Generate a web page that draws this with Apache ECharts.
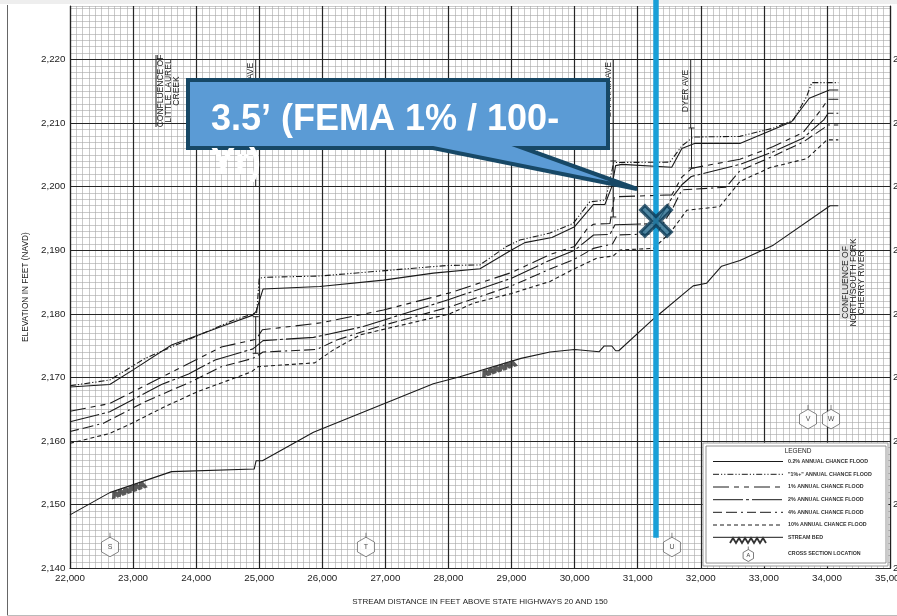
<!DOCTYPE html>
<html><head><meta charset="utf-8">
<script src="https://cdn.jsdelivr.net/npm/echarts/dist/echarts.min.js"></script>
<style>html,body{margin:0;padding:0;background:#fff}#c{width:897px;height:616px}</style>
</head><body><div id="c"></div>
<script>
// ---------------- data ----------------
const xMin = 22000, xMax = 35000, xStep = 1000;
const yMin = 2140, yMax = 2228.4, yStep = 10;

const flood02 = [[22000,2168.5],[22630,2168.9],[23000,2171.2],[23610,2175.1],[24400,2178.0],[24900,2179.8],[24950,2180.4],[25060,2183.9],[25960,2184.3],[26970,2185.3],[27760,2186.4],[28500,2187.1],[29000,2190.05],[29210,2191.2],[29640,2192.0],[30000,2193.7],[30300,2197.2],[30480,2197.2],[30590,2200.0],[30650,2203.3],[30750,2203.5],[31540,2203.05],[31700,2206.0],[31900,2206.8],[32620,2206.8],[33150,2209.0],[33440,2210.2],[33720,2213.9],[34040,2215.2],[34180,2215.2]];
const flood1plus = [[22000,2168.7],[22630,2169.6],[23190,2173.0],[24590,2179.0],[24960,2180.2],[25000,2185.6],[25090,2185.75],[25960,2185.95],[27970,2187.6],[28500,2187.7],[28920,2190.6],[29130,2191.6],[29610,2192.7],[29980,2194.25],[30240,2197.6],[30490,2197.9],[30620,2203.8],[31510,2203.85],[31700,2206.4],[31880,2207.8],[32620,2207.9],[33150,2209.2],[33470,2210.5],[33680,2214.2],[33760,2216.35],[34180,2216.35]];
const flood1 = [[22000,2164.7],[22630,2165.9],[23500,2170.3],[24400,2174.8],[24950,2176.0],[25050,2177.5],[25990,2178.6],[26970,2180.6],[28020,2183.3],[29000,2186.5],[29600,2189.3],[30000,2190.6],[30200,2193.4],[30300,2194.1],[30560,2194.2],[30630,2198.4],[31540,2198.7],[31700,2201.5],[31860,2202.9],[32620,2204.3],[33150,2206.3],[33620,2208.5],[33900,2212.0],[34020,2213.75],[34180,2213.75]];
const flood2 = [[22000,2163.05],[22630,2164.6],[23450,2168.9],[23880,2170.55],[24300,2172.75],[24900,2174.5],[25060,2175.8],[25860,2176.3],[26650,2178.0],[28020,2182.3],[29000,2185.6],[29600,2188.4],[30000,2190.0],[30300,2192.4],[30560,2192.5],[30640,2194.0],[31300,2194.2],[31540,2198.2],[31700,2200.3],[31850,2201.6],[32620,2203.5],[33150,2205.5],[33620,2207.6],[33950,2210.5],[34020,2211.55],[34180,2211.55]];
const flood4 = [[22000,2161.5],[22530,2162.8],[23190,2166.2],[23900,2169.25],[24400,2171.7],[24900,2173.0],[25060,2174.0],[25910,2174.4],[26230,2175.9],[26860,2177.9],[28020,2181.1],[29000,2184.4],[29600,2187.0],[30000,2188.6],[30300,2190.3],[30600,2191.0],[30680,2192.4],[31300,2192.6],[31550,2196.5],[31700,2199.5],[32400,2199.9],[32620,2202.5],[33150,2204.8],[33620,2207.0],[33950,2209.2],[34020,2209.7],[34180,2209.7]];
const flood10 = [[22000,2159.65],[22630,2161.2],[22980,2162.8],[23500,2165.4],[24030,2167.8],[24880,2170.9],[24980,2171.7],[25880,2172.3],[26170,2174.3],[26600,2176.7],[28020,2180.0],[28400,2181.7],[29000,2183.2],[29610,2185.1],[29980,2187.0],[30350,2188.75],[30610,2189.1],[30720,2190.05],[31040,2190.2],[31250,2190.3],[31510,2192.7],[31780,2196.3],[32300,2196.85],[32620,2200.8],[33100,2203.0],[33680,2204.4],[34000,2207.35],[34180,2207.35]];
const streamBed = [[22000,2148.4],[22630,2151.9],[23610,2155.2],[24920,2155.6],[24950,2156.9],[25050,2156.9],[25860,2161.4],[27760,2169.0],[28180,2170.1],[29150,2173.0],[29610,2174.0],[30000,2174.4],[30390,2174.05],[30470,2174.95],[30590,2174.95],[30650,2174.2],[30700,2174.2],[31250,2179.2],[31830,2184.0],[31880,2184.4],[32090,2184.8],[32330,2187.5],[32620,2188.4],[33150,2190.8],[34050,2197.0],[34180,2197.0]];

const streamBedSymbolPos = [[22931,2152.3],[28800,2171.4]];
const crossSectionIds = ['S','T','U','V','W'];
const crossSectionDist = [22634,26692,31543,33700,34065];
const crossSectionElev = [2143.7,2143.7,2143.7,2163.8,2163.8];

const markerDist = 31290;
const markerElev = 2194.6;
const markerLineRange = [2144.8, 2229.4];

const seriesNames = ['0.2% ANNUAL CHANCE FLOOD','"1%+" ANNUAL CHANCE FLOOD','1% ANNUAL CHANCE FLOOD','2% ANNUAL CHANCE FLOOD','4% ANNUAL CHANCE FLOOD','10% ANNUAL CHANCE FLOOD'];
const seriesData = [flood02, flood1plus, flood1, flood2, flood4, flood10];
const dashes = ['solid',[6,2,1.2,2,1.2,2],[16,5,5,5,5,5],[30,3,3,3],[9,4,11,4,2,4],[4,3]];

// ---------------- chart ----------------
const FONT = '"Liberation Sans", Arial, sans-serif';
const fmt = v => Math.round(v).toLocaleString('en-US');
const chart = echarts.init(document.getElementById('c'));

const hexPath = 'path://M0,-16L0,-11M9.5,-5.5L9.5,5.5L0,11L-9.5,5.5L-9.5,-5.5L0,-11Z';
const zigPath = 'path://M0,6L3,0L6,6L9,0L12,6L15,0L18,6L21,0L24,6L27,0L30,6L33,0L36,6';
const xPath = 'path://M-10,-14L0,-4L10,-14L14,-10L4,0L14,10L10,14L0,4L-10,14L-14,10L-4,0L-14,-10Z';

const series = seriesNames.map((n,i)=>({
  name:n, type:'line', data:seriesData[i], symbol:'none', silent:true, z:5,
  lineStyle:{color:'#1a1a1a', width:1.1, type:dashes[i]}
}));
series.push({name:'STREAM BED', type:'line', data:streamBed, symbol:'none', silent:true, z:5,
  lineStyle:{color:'#1a1a1a', width:1.1}});
series.push({name:'bedSymbol', type:'scatter', data:streamBedSymbolPos, symbol:zigPath, symbolSize:[34,7],
  symbolRotate:19, silent:true, z:6, itemStyle:{color:'rgba(0,0,0,0)', borderColor:'#333', borderWidth:1.8}});
series.push({name:'cross', type:'scatter', silent:true, z:6,
  data:crossSectionIds.map((id,i)=>({name:id, value:[crossSectionDist[i],crossSectionElev[i]]})),
  symbol:hexPath, symbolSize:[17,24], symbolKeepAspect:false,
  itemStyle:{color:'#fff', borderColor:'#444', borderWidth:0.8},
  label:{show:true, formatter:'{b}', position:'inside', offset:[0,2.3], fontSize:7, color:'#222', fontFamily:FONT}});
series.push({name:'markerLine', type:'line', clip:false, silent:true, z:20, symbol:'none',
  data:[[markerDist,markerLineRange[0]],[markerDist,markerLineRange[1]]],
  lineStyle:{color:'#1A9FD7', width:5.5}});
series.push({name:'marker', type:'scatter', silent:true, z:21, data:[[markerDist,markerElev]],
  symbol:xPath, symbolSize:31, itemStyle:{color:'#266B8F', borderColor:'#0C3A55', borderWidth:3}});

// ---------------- annotations ----------------
const G = [];
const ink = '#222';
G.push({type:'rect', shape:{x:0,y:0,width:897,height:4}, style:{fill:'#eeeeee'}, silent:true, z:1});
G.push({type:'line', shape:{x1:7.5,y1:5,x2:7.5,y2:615}, style:{stroke:'#666',lineWidth:1}, z:1});
G.push({type:'line', shape:{x1:7,y1:615.5,x2:897,y2:615.5}, style:{stroke:'#bbb',lineWidth:1}, z:1});
function vline(x,y1,y2){G.push({type:'line', shape:{x1:x,y1:y1,x2:x,y2:y2}, style:{stroke:ink,lineWidth:1}, z:30, silent:true});}
function ibar(x,y1,y2){vline(x,y1,y2);
  G.push({type:'line', shape:{x1:x-3,y1:y1,x2:x+3,y2:y1}, style:{stroke:ink,lineWidth:1}, z:30});
  G.push({type:'line', shape:{x1:x-3,y1:y2,x2:x+3,y2:y2}, style:{stroke:ink,lineWidth:1}, z:30});}
function vtext(t,x,y,fs){G.push({type:'text', x:x, y:y, rotation:Math.PI/2, z:30, silent:true,
  style:{text:t, fontSize:fs||8.5, fontFamily:FONT, fill:ink, align:'center', verticalAlign:'middle', lineHeight:8}});}

vline(156,55,127); vtext('CONFLUENCE OF\nLITTLE LAUREL\nCREEK',168.5,91);
vline(255.7,60,187); vtext('AVE',250.5,71); ibar(255.7,316.7,353.3);
vline(613.3,60,161); vtext('GRAHAM AVE',608.3,90); ibar(613.3,161,217);
vline(690.7,60,128); vtext('DYER AVE',686,91); ibar(691.5,128,168);
G.push({type:'rect', shape:{x:840,y:245,width:10,height:74}, style:{fill:'#e4e4e4'}, z:29});
vtext('CONFLUENCE OF\nNORTH/SOUTH FORK\nCHERRY RIVER',853.5,282.5);

// callout
G.push({type:'polygon', z:100, silent:true,
  shape:{points:[[188,80],[608,80],[608,148],[523,148],[637,189],[433,148],[188,148]]},
  style:{fill:'#5B9BD5', stroke:'#174866', lineWidth:4, lineJoin:'miter'}});
G.push({type:'text', x:211, y:98, z:101, silent:true,
  style:{text:'3.5\u2019 (FEMA 1% / 100-\nYr)', fontSize:36, fontWeight:'bold', fontFamily:FONT, fill:'#fff', lineHeight:44, verticalAlign:'top', align:'left'}});

// legend
G.push({type:'rect', z:60, shape:{x:703,y:443,width:185,height:123}, style:{fill:'#fff', stroke:'#999', lineWidth:1}});
G.push({type:'rect', z:61, shape:{x:706,y:446,width:180,height:117}, style:{fill:'none', stroke:'#777', lineWidth:0.8}});
G.push({type:'text', z:62, x:798, y:451, style:{text:'LEGEND', fontSize:6.5, fontFamily:FONT, fill:ink, align:'center', verticalAlign:'middle'}});
const legY = [461.5,474.3,487,499.7,512.3,525];
seriesNames.forEach((n,i)=>{
  const d = dashes[i];
  G.push({type:'line', z:62, shape:{x1:713,y1:legY[i],x2:783,y2:legY[i]}, style:{stroke:'#1a1a1a', lineWidth:1, lineDash: d==='solid'?null:d}});
  G.push({type:'text', z:62, x:788, y:legY[i], style:{text:n, fontSize:5.3, fontWeight:'bold', fontFamily:FONT, fill:'#333', verticalAlign:'middle'}});
});
G.push({type:'line', z:62, shape:{x1:713,y1:537.3,x2:783,y2:537.3}, style:{stroke:'#1a1a1a', lineWidth:1}});
const zz=[]; for(let k=0;k<=12;k++){zz.push([730+k*3, 543-(k%2)*5]);}
G.push({type:'polyline', z:63, shape:{points:zz}, style:{stroke:'#333', lineWidth:1.8, fill:null}});
G.push({type:'text', z:62, x:788, y:537.3, style:{text:'STREAM BED', fontSize:5.3, fontWeight:'bold', fontFamily:FONT, fill:'#333', verticalAlign:'middle'}});
G.push({type:'polygon', z:62, shape:{points:[[748.3,549.5],[753.5,552.5],[753.5,558.5],[748.3,561.5],[743.1,558.5],[743.1,552.5]]}, style:{fill:'#fff', stroke:'#444', lineWidth:0.7}});
G.push({type:'line', z:62, shape:{x1:748.3,y1:546.5,x2:748.3,y2:549.5}, style:{stroke:'#444', lineWidth:0.7}});
G.push({type:'text', z:63, x:748.3, y:555.7, style:{text:'A', fontSize:5.5, fontFamily:FONT, fill:'#333', align:'center', verticalAlign:'middle'}});
G.push({type:'text', z:62, x:788, y:554, style:{text:'CROSS SECTION LOCATION', fontSize:5.3, fontWeight:'bold', fontFamily:FONT, fill:'#333', verticalAlign:'middle'}});

const major = {color:'#262626', width:1.2};
const minor = {color:'#a6a6a6', width:0.6};
const option = {
  animation:false,
  backgroundColor:'#fff',
  grid:{left:70, right:7, top:6, bottom:47.7, show:false, containLabel:false, outerBoundsMode:'none'},
  xAxis:{type:'value', min:xMin, max:xMax, interval:xStep, z:2,
    name:'STREAM DISTANCE IN FEET ABOVE STATE HIGHWAYS 20 AND 150', nameLocation:'middle', nameGap:29,
    nameTextStyle:{fontSize:8, fontFamily:FONT, color:ink},
    axisLabel:{formatter:fmt, fontSize:9.8, fontFamily:FONT, color:ink, margin:5},
    axisLine:{show:true, lineStyle:{color:'#222', width:1.2}}, axisTick:{show:false},
    splitLine:{show:true, lineStyle:major},
    minorTick:{show:false, splitNumber:10}, minorSplitLine:{show:true, lineStyle:minor}},
  yAxis:[
    {type:'value', min:yMin, max:yMax, interval:yStep, position:'left', z:3,
     name:'ELEVATION IN FEET (NAVD)', nameLocation:'middle', nameGap:38, nameRotate:90,
     nameTextStyle:{fontSize:8.3, fontFamily:FONT, color:ink},
     axisLabel:{formatter:fmt, fontSize:9.8, fontFamily:FONT, color:ink, margin:4.5, showMaxLabel:false},
     axisLine:{show:true, lineStyle:{color:'#222', width:1.2}}, axisTick:{show:false},
     splitLine:{show:true, lineStyle:major, showMaxLine:false}},
    {type:'value', min:yMin, max:yMax, interval:1, position:'left', z:1,
     axisLabel:{show:false}, axisLine:{show:false}, axisTick:{show:false},
     splitLine:{show:true, lineStyle:minor}},
    {type:'value', min:yMin, max:yMax, interval:yStep, position:'right', z:3,
     axisLabel:{formatter:fmt, fontSize:9.8, fontFamily:FONT, color:ink, margin:3, showMaxLabel:false},
     axisLine:{show:true, lineStyle:{color:'#222', width:1.2}}, axisTick:{show:false}, splitLine:{show:false}}
  ],
  series: series,
  graphic: G
};
chart.setOption(option);
</script></body></html>
